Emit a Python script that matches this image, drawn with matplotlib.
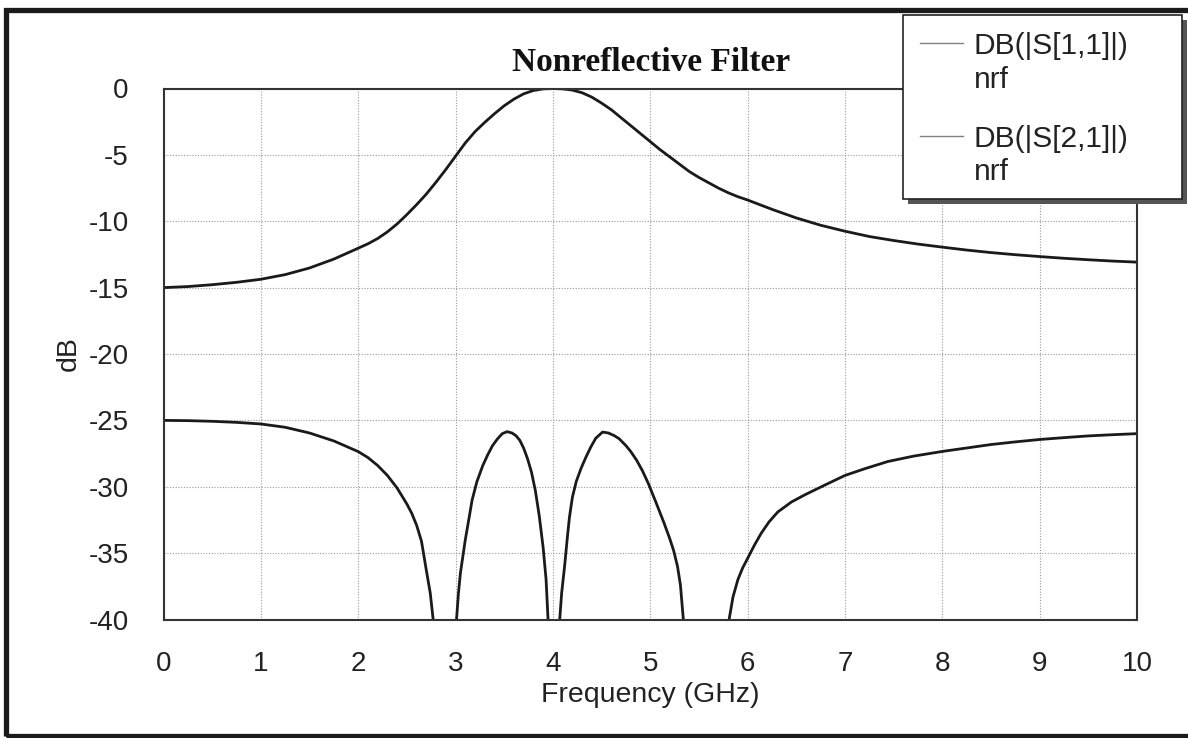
import numpy as np
import matplotlib.pyplot as plt
from matplotlib.patches import Rectangle
from matplotlib.lines import Line2D

# values (GHz, dB)
freq_s11 = [0.0, 0.25, 0.5, 0.75, 1.0, 1.25, 1.5, 1.75, 2.0, 2.1, 2.2, 2.3, 2.4,
            2.5, 2.6, 2.7, 2.8, 2.9, 3.0, 3.1, 3.2, 3.3, 3.4, 3.5, 3.6, 3.7,
            3.8, 3.9, 4.0, 4.1, 4.2, 4.3, 4.4, 4.5, 4.6, 4.7, 4.8, 4.9, 5.0,
            5.1, 5.2, 5.3, 5.4, 5.5, 5.6, 5.7, 5.8, 5.9, 6.0, 6.25, 6.5, 6.75,
            7.0, 7.25, 7.5, 7.75, 8.0, 8.25, 8.5, 8.75, 9.0, 9.25, 9.5, 9.75, 10.0]
db_s11 = [-15.0, -14.92, -14.78, -14.6, -14.37, -14.02, -13.52, -12.85, -12.03,
          -11.7, -11.3, -10.8, -10.2, -9.5, -8.75, -7.95, -7.05, -6.1, -5.1,
          -4.1, -3.25, -2.55, -1.9, -1.3, -0.8, -0.4, -0.15, -0.03, 0.0, -0.03,
          -0.12, -0.32, -0.65, -1.1, -1.6, -2.2, -2.8, -3.4, -4.0, -4.6, -5.15,
          -5.7, -6.25, -6.7, -7.1, -7.5, -7.85, -8.15, -8.4, -9.1, -9.75, -10.3,
          -10.75, -11.15, -11.45, -11.72, -11.95, -12.17, -12.36, -12.52, -12.66,
          -12.79, -12.9, -13.0, -13.08]

# second trace drops below the -40 dB floor in three places (NaN = off scale)
freq_s21 = [0.0, 0.25, 0.5, 0.75, 1.0, 1.25, 1.5, 1.75, 2.0, 2.1, 2.2, 2.3, 2.4,
            2.5, 2.55, 2.6, 2.65, 2.7, 2.74, 2.77,
            2.9,
            3.01, 3.03, 3.05, 3.08, 3.1, 3.14, 3.17, 3.22, 3.28, 3.33, 3.38, 3.43,
            3.48, 3.53, 3.58, 3.62, 3.66, 3.7, 3.74, 3.78, 3.82, 3.86, 3.9, 3.93,
            3.95,
            4.0,
            4.07, 4.09, 4.12, 4.15, 4.17, 4.2, 4.24, 4.29, 4.34, 4.39, 4.44, 4.51,
            4.57, 4.63, 4.68, 4.75, 4.8, 4.86, 4.92, 4.98, 5.06, 5.14, 5.2, 5.24,
            5.28, 5.31, 5.34,
            5.5,
            5.81, 5.85, 5.9, 5.95, 6.0, 6.07, 6.14, 6.22, 6.31, 6.45, 6.59, 6.8,
            7.0, 7.2, 7.44, 7.7, 8.0, 8.25, 8.5, 8.75, 9.0, 9.25, 9.5, 9.75, 10.0]
db_s21 = [-25.0, -25.02, -25.07, -25.15, -25.27, -25.52, -25.95, -26.55, -27.35,
          -27.8, -28.4, -29.15, -30.1, -31.3, -32.0, -32.9, -34.1, -36.3, -38.0,
          -40.0,
          np.nan,
          -40.0, -38.0, -36.5, -35.0, -34.0, -32.3, -31.0, -29.6, -28.4, -27.6,
          -26.9, -26.4, -26.0, -25.85, -25.95, -26.15, -26.5, -27.1, -27.9,
          -28.9, -30.3, -32.2, -34.6, -37.0, -40.0,
          np.nan,
          -40.0, -38.0, -36.0, -33.7, -32.3, -30.8, -29.6, -28.6, -27.76, -27.0,
          -26.35, -25.88, -25.95, -26.15, -26.38, -26.9, -27.35, -28.0, -28.8,
          -29.75, -31.2, -32.7, -33.9, -34.8, -36.0, -37.4, -40.0,
          np.nan,
          -40.0, -38.3, -37.0, -36.1, -35.4, -34.4, -33.5, -32.65, -31.9, -31.15,
          -30.6, -29.85, -29.15, -28.65, -28.1, -27.7, -27.34, -27.08, -26.82,
          -26.62, -26.44, -26.3, -26.17, -26.08, -26.0]

x_ticks = list(range(0, 11))
y_ticks = [0, -5, -10, -15, -20, -25, -30, -35, -40]
legend_names = ['DB(|S[1,1]|)', 'DB(|S[2,1]|)']
legend_sub = 'nrf'

W, H = 1188, 738


def px(x, y):
    # pixel position -> figure fraction
    return x / W, 1 - y / H


fig = plt.figure(figsize=(W / 100, H / 100), dpi=100)
fig.patch.set_facecolor('white')

ax = fig.add_axes([163.5 / W, 1 - 619.5 / H, (1137 - 163.5) / W, (619.5 - 88.5) / H])
ax.plot(freq_s11, db_s11, color='#1a1a1a', lw=2.0)
ax.plot(freq_s21, db_s21, color='#1a1a1a', lw=2.0)

ax.set_xlim(0, 10)
ax.set_ylim(-40, 0)
ax.set_xticks(x_ticks)
ax.set_yticks(y_ticks)
ax.set_xticklabels([str(t) for t in x_ticks])
ax.set_yticklabels([str(t) for t in y_ticks])
ax.tick_params(length=0, labelsize=20, labelcolor='#222222', pad=23)
ax.tick_params(axis='y', pad=25)
for lab in ax.get_xticklabels() + ax.get_yticklabels():
    lab.set_family('Liberation Sans')
ax.grid(True, color='#999999', linestyle=(0, (1, 1.5)), lw=0.8)
for sp in ax.spines.values():
    sp.set_color('#333333')
    sp.set_linewidth(1.5)

ax.set_xlabel('Frequency (GHz)', family='Liberation Sans', fontsize=20.5,
              color='#222222', labelpad=3)
ax.set_ylabel('dB', family='Liberation Sans', fontsize=20.5,
              color='#222222', labelpad=5)

fig.text(*px(651, 71), 'Nonreflective Filter', family='Liberation Serif',
         fontweight='bold', fontsize=24, ha='center', va='baseline',
         color='#111111')

# legend box with drop shadow
x0, y0, x1, y1 = 903, 15, 1182, 199
sx, sy = px(x0 + 5, y1 + 5)
fig.patches.append(Rectangle((sx, sy), (x1 - x0) / W, (y1 - y0) / H,
                             transform=fig.transFigure, facecolor='#555555',
                             edgecolor='none', zorder=5))
bx, by = px(x0, y1)
fig.patches.append(Rectangle((bx, by), (x1 - x0) / W, (y1 - y0) / H,
                             transform=fig.transFigure, facecolor='white',
                             edgecolor='#222222', lw=1.2, zorder=6))
for i, name in enumerate(legend_names):
    ly = 43 + 93 * i
    fig.lines.append(Line2D([920 / W, 963 / W], [1 - ly / H, 1 - ly / H],
                            transform=fig.transFigure, color='#808080',
                            lw=1.0, zorder=7))
    fig.text(*px(973, 54 + 93 * i), name, family='Liberation Sans',
             fontsize=21.5, va='baseline', color='#222222', zorder=7)
    fig.text(*px(974, 88 + 92 * i), legend_sub, family='Liberation Sans',
             fontsize=21.5, va='baseline', color='#222222', zorder=7)

# outer frame (right side is cut off in the reference)
fx, fy = px(5.5, 736)
fig.patches.append(Rectangle((fx, fy), 1.2, (736 - 10) / H,
                             transform=fig.transFigure, facecolor='none',
                             edgecolor='#1a1a1a', lw=3.8, zorder=8))

fig.savefig('out.png', dpi=100)
